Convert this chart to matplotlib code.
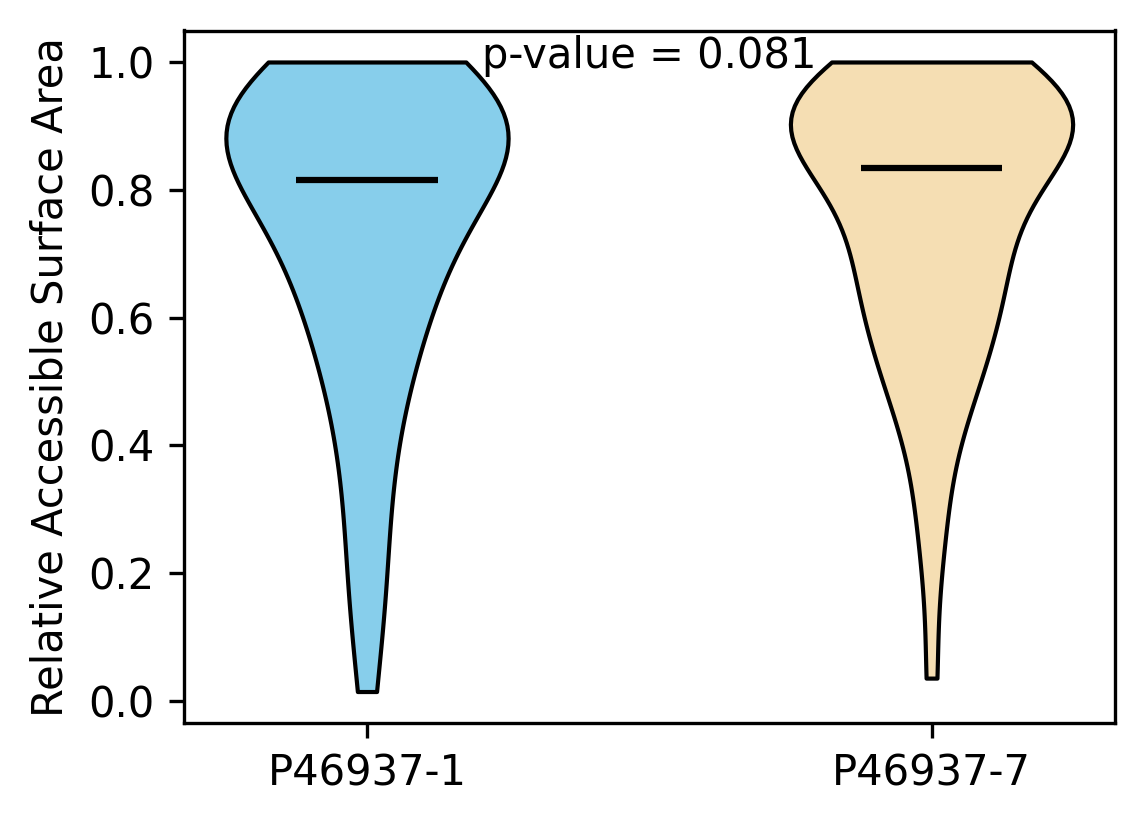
import numpy as np
import matplotlib
matplotlib.use('Agg')
import matplotlib.pyplot as plt

# RSA values per isoform
labels = ['P46937-1', 'P46937-7']
rsa_1 = [0.015, 0.14, 0.17, 0.25, 0.31, 0.36, 0.41, 0.45, 0.49,
         0.53, 0.54, 0.56, 0.59, 0.61, 0.63, 0.65, 0.67,
         0.69, 0.70, 0.715, 0.73, 0.74, 0.755,
         0.775, 0.785, 0.795, 0.805, 0.815,
         0.835, 0.85, 0.86, 0.865, 0.87, 0.875, 0.88, 0.885, 0.89,
         0.895, 0.90, 0.905, 0.91, 0.915, 0.92, 0.925, 0.93, 0.94,
         0.945, 0.95, 0.955, 0.965, 0.975,
         1.0, 1.0, 1.0, 1.0]
rsa_7 = [0.036, 0.22, 0.29, 0.35, 0.42, 0.46, 0.48, 0.49, 0.515, 0.535, 0.555,
         0.575, 0.59, 0.605, 0.62, 0.635, 0.65, 0.662, 0.675, 0.688, 0.70,
         0.712, 0.725, 0.738, 0.75, 0.765, 0.795, 0.81, 0.82, 0.83,
         0.838, 0.85, 0.86, 0.87, 0.878, 0.885, 0.89, 0.895, 0.90, 0.905,
         0.91, 0.913, 0.917, 0.92, 0.923, 0.927, 0.93, 0.93, 0.935, 0.94,
         0.945, 0.95, 0.955, 0.96, 0.965, 0.972, 0.98, 0.99, 1.0, 1.0]
p_value = 0.081

colors = ['#87CEEB', '#F5DEB3']

fig = plt.figure(figsize=(1144 / 300, 824 / 300), dpi=300)
ax = fig.add_axes([183.5 / 1144, 1 - 723 / 824, (1115 - 183.5) / 1144, (723 - 30.5) / 824])

parts = ax.violinplot([rsa_1, rsa_7], positions=[1, 2],
                      showmedians=True, showextrema=False)
for body, c in zip(parts['bodies'], colors):
    body.set_facecolor(c)
    body.set_edgecolor('black')
    body.set_linewidth(1.0)
    body.set_alpha(1)
parts['cmedians'].set_color('black')
parts['cmedians'].set_linewidth(1.5)

ax.set_xticks([1, 2])
ax.set_xticklabels(labels)
ax.set_ylabel('Relative Accessible Surface Area')
ax.text(1.5, 0.99, f'p-value = {p_value}', ha='center')

fig.savefig('out.png', dpi=300)
